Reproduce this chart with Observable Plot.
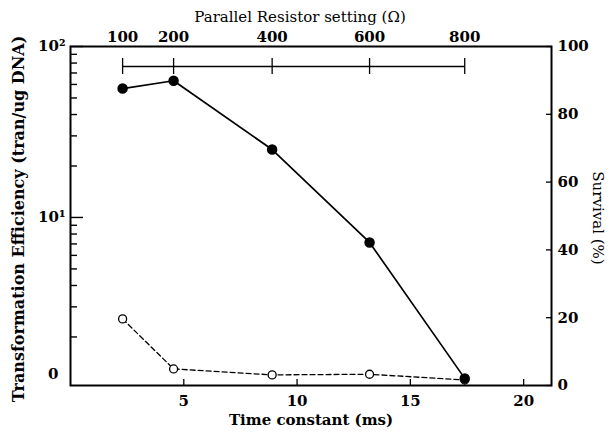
<!DOCTYPE html>
<html><head><meta charset="utf-8">
<script src="https://cdn.jsdelivr.net/npm/d3@7"></script>
<script src="https://cdn.jsdelivr.net/npm/@observablehq/plot@0.6"></script>
<style>
html,body{margin:0;padding:0;background:#fff;}
#chart{position:relative;width:614px;height:437px;}
#chart svg{position:absolute;left:0;top:0;}
</style></head><body><div id="chart"></div>
<script>
// Data
const timeConstant = [2.3, 4.55, 8.9, 13.2, 17.4];          // ms
const resistorSetting = ["100", "200", "400", "600", "800"]; // Ω
const survival = [87.6, 89.9, 69.6, 42.2, 2.1];              // % (filled circles, right axis)
const efficiency = [2.55, 1.30, 1.20, 1.21, 1.12];          // tran/ug DNA (open circles, left log axis)
const xTicks = [5, 10, 15, 20];
const survivalTicks = [0, 20, 40, 60, 80, 100];
const effMajorTicks = [10, 100];
const effMajorLabels = ["10¹", "10²"];
const effMinorTicks = [2, 3, 4, 5, 6, 7, 8, 9, 20, 30, 40, 50, 60, 70, 80, 90];

const W = 614, H = 437;
const M = {left: 70, right: 63, top: 46, bottom: 52};
const frameWidth = W - M.left - M.right;
const xDomain = [0, 21.23];
const font = "DejaVu Serif";

const common = {
  width: W, height: H,
  marginLeft: M.left, marginRight: M.right, marginTop: M.top, marginBottom: M.bottom,
  x: {domain: xDomain, axis: null},
};

const plotA = Plot.plot({
  ...common,
  style: {fontFamily: font, fontSize: "15px", fontWeight: "bold", background: "white", color: "black"},
  y: {type: "log", domain: [1.04, 100], axis: null},
  marks: [
    // top resistor bracket
    Plot.ruleY([[timeConstant[0], timeConstant[timeConstant.length - 1]]],
      {x1: d => d[0], x2: d => d[1], y: null, dy: -149.5, stroke: "black", strokeWidth: 1.3}),
    Plot.ruleX(timeConstant, {insetTop: 12, insetBottom: 311, stroke: "black", strokeWidth: 1.3}),
    Plot.text(resistorSetting, {x: (d, i) => timeConstant[i], frameAnchor: "top", dy: -15,
      textAnchor: "middle", fontWeight: "bold", fontSize: 15}),
    Plot.text(["Parallel Resistor setting (Ω)"], {frameAnchor: "top", dy: -35, dx: -11,
      textAnchor: "middle", fontWeight: "normal", fontSize: 15}),
    // bottom axis
    Plot.axisX({ticks: xTicks, tickSize: -6, tickPadding: 16, label: null, strokeWidth: 1.3}),
    Plot.text(["Time constant (ms)"], {frameAnchor: "bottom", dy: 39, textAnchor: "middle",
      fontWeight: "bold", fontSize: 15}),
    // left log axis
    Plot.axisY({ticks: effMajorTicks, tickFormat: (d) => effMajorLabels[effMajorTicks.indexOf(d)],
      tickSize: -13, tickPadding: 18, label: null, strokeWidth: 1.4}),
    Plot.tickY(effMinorTicks, {y: d => d, insetLeft: 0, insetRight: frameWidth - 7, stroke: "black", strokeWidth: 1.4}),
    Plot.text(["0"], {frameAnchor: "bottom-left", dx: -12, dy: -7, textAnchor: "end",
      fontWeight: "bold", fontSize: 15}),
    Plot.text(["Transformation Efficiency (tran/ug DNA)"], {frameAnchor: "left", rotate: -90,
      dx: -52, dy: 3, textAnchor: "middle", fontWeight: "bold", fontSize: 16}),
    Plot.text(["Survival (%)"], {frameAnchor: "right", rotate: 90, dx: 46, dy: 2,
      textAnchor: "middle", fontWeight: "normal", fontSize: 15}),
    // open circles: transformation efficiency
    Plot.line(efficiency, {x: (d, i) => timeConstant[i], y: d => d, stroke: "black",
      strokeWidth: 1.3, strokeDasharray: "5,3"}),
    Plot.dot(efficiency, {x: (d, i) => timeConstant[i], y: d => d, r: 4, fill: "white",
      stroke: "black", strokeWidth: 1.3}),
    Plot.frame({stroke: "black", strokeWidth: 2})
  ]
});

const plotB = Plot.plot({
  ...common,
  style: {fontFamily: font, fontSize: "15px", fontWeight: "bold", background: "transparent", color: "black"},
  y: {domain: [0, 100], axis: null},
  marks: [
    Plot.axisY({anchor: "right", ticks: survivalTicks, tickSize: -6, tickPadding: 12,
      label: null, strokeWidth: 1.3}),
    // filled circles: survival
    Plot.line(survival, {x: (d, i) => timeConstant[i], y: d => d, stroke: "black", strokeWidth: 1.7}),
    Plot.dot(survival, {x: (d, i) => timeConstant[i], y: d => d, r: 4.5, fill: "black", stroke: "black"})
  ]
});

const chart = document.getElementById("chart");
chart.appendChild(plotA);
chart.appendChild(plotB);
</script>
</body></html>
